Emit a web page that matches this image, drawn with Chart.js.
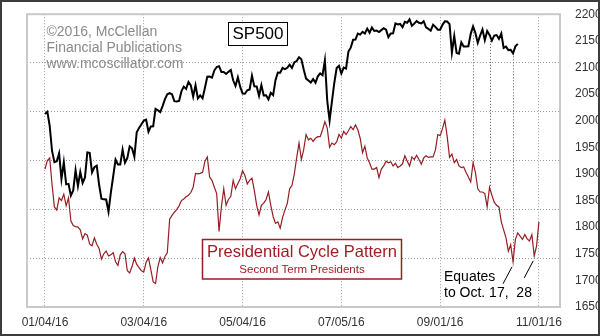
<!DOCTYPE html>
<html>
<head>
<meta charset="utf-8">
<script src="https://cdn.jsdelivr.net/npm/chart.js@4.4.1/dist/chart.umd.min.js"></script>
<style>
  html, body { margin: 0; padding: 0; background: #fff; }
  canvas { display: block; }
</style>
</head>
<body>
<canvas id="c" width="600" height="336"></canvas>
<script>
// S&P 500 daily closes, one per trading day from 01/04/16 through 10/19/16
const sp500 = [
  // Jan
  2012.66, 2016.71, 1990.26, 1943.09, 1922.03, 1923.67, 1938.68, 1890.28, 1921.84, 1880.33,
  1881.33, 1859.33, 1868.99, 1906.90, 1877.08, 1903.63, 1882.95, 1893.36, 1940.24,
  // Feb
  1939.38, 1903.03, 1912.53, 1915.45, 1880.05, 1853.44, 1852.21, 1851.86, 1829.08, 1864.78,
  1895.58, 1926.82, 1917.83, 1917.78, 1945.50, 1921.27, 1929.80, 1951.70, 1948.05, 1932.23,
  // Mar
  1978.35, 1986.45, 1993.40, 1999.99, 2001.76, 1979.26, 1989.26, 1989.57, 2022.19, 2019.64,
  2015.93, 2027.22, 2040.59, 2049.58, 2051.60, 2049.80, 2036.71, 2035.94, 2037.05, 2055.01,
  2063.95, 2059.74,
  // Apr
  2072.78, 2066.13, 2045.17, 2066.66, 2041.91, 2047.60, 2041.99, 2061.72, 2082.42, 2082.78,
  2080.73, 2094.34, 2100.80, 2102.40, 2091.48, 2091.58, 2087.79, 2091.70, 2095.15, 2075.81,
  2065.30,
  // May
  2081.43, 2063.37, 2051.12, 2050.63, 2057.14, 2058.69, 2084.39, 2064.46, 2064.11, 2046.61,
  2066.66, 2047.21, 2047.63, 2040.04, 2052.32, 2048.04, 2076.06, 2090.54, 2090.10, 2099.06,
  2096.95,
  // Jun
  2099.33, 2105.26, 2099.13, 2109.41, 2112.13, 2119.12, 2115.48, 2096.07, 2079.06, 2075.32,
  2071.50, 2077.99, 2071.22, 2083.25, 2088.90, 2085.45, 2113.32, 2037.41, 2000.54, 2036.09,
  2070.77, 2098.86,
  // Jul
  2102.95, 2088.55, 2099.73, 2097.90, 2129.90, 2137.16, 2152.14, 2152.43, 2163.75, 2161.74,
  2166.89, 2163.78, 2173.02, 2165.17, 2175.03, 2168.48, 2169.18, 2166.58, 2170.06, 2173.60,
  // Aug
  2170.84, 2157.03, 2163.79, 2164.25, 2182.87, 2180.89, 2181.74, 2175.49, 2185.79, 2184.05,
  2190.15, 2178.15, 2182.22, 2187.02, 2183.87, 2182.64, 2186.90, 2175.44, 2172.47, 2169.04,
  2180.38, 2176.12, 2170.95,
  // Sep
  2170.86, 2179.98, 2186.48, 2186.16, 2181.30, 2127.81, 2159.04, 2127.02, 2125.77, 2147.26,
  2139.16, 2139.12, 2139.76, 2163.12, 2177.18, 2164.69, 2146.10, 2159.93, 2171.37, 2151.13,
  2168.27,
  // Oct
  2161.20, 2150.49, 2159.73, 2160.77, 2153.74, 2163.66, 2136.73, 2139.18, 2132.55, 2132.98,
  2126.50, 2139.60, 2144.29
];

// Presidential cycle pattern (second-term presidents), one value per trading day to 11/01/16
const pattern = [
  1909, 1925, 1930, 1880, 1838, 1832, 1855, 1850, 1862, 1840,
  1855, 1812, 1803, 1801, 1800, 1795, 1778, 1788, 1785, 1768,
  1765, 1780, 1768, 1760, 1740, 1750, 1755, 1746, 1748, 1752,
  1735, 1728, 1748, 1754, 1750, 1718, 1714, 1726, 1742, 1730,
  1724, 1718, 1716, 1734, 1742, 1720, 1697, 1694, 1726, 1743,
  1733, 1745, 1752, 1815, 1822, 1828, 1833, 1840, 1850, 1853,
  1857, 1860, 1865, 1875, 1901, 1900, 1901, 1903, 1924, 1932,
  1894, 1888, 1875, 1863, 1792, 1838, 1872, 1841, 1852, 1858,
  1888, 1872, 1882, 1891, 1906, 1897, 1881, 1888, 1892, 1869,
  1841, 1823, 1841, 1845, 1852, 1866, 1841, 1820, 1807, 1810,
  1798, 1818, 1832, 1844, 1872, 1878, 1900, 1930, 1958, 1927,
  1946, 1974, 1964, 1967, 1961, 1967, 1970, 1970, 1983, 1998,
  1986, 1950, 1958, 1955, 1960, 1974, 1967, 1980, 1974, 1981,
  1989, 1983, 1992, 1983, 1967, 1940, 1952, 1930, 1921, 1909,
  1909, 1912, 1893, 1909, 1915, 1924, 1921, 1923, 1915, 1920,
  1912, 1915, 1919, 1934, 1924, 1915, 1932, 1927, 1935, 1927,
  1918, 1930, 1934, 1931, 1932, 1932, 1945, 1974, 1972, 1985,
  2001, 1970, 1931, 1937, 1921, 1927, 1915, 1912, 1913, 1903,
  1894, 1885, 1921, 1903, 1872, 1866, 1866, 1863, 1838, 1875,
  1860, 1847, 1841, 1838, 1810, 1795, 1780, 1755, 1767, 1735,
  1777, 1789, 1783, 1777, 1786, 1778, 1774, 1786, 1746, 1765,
  1810
];

// Date axis: trading-day index of each labelled date
const tickDays   = [0, 42, 84, 126, 168, 210];
const tickLabels = ['01/04/16', '03/04/16', '05/04/16', '07/05/16', '09/01/16', '11/01/16'];

// Trading days joined by dotted guides (S&P 500 turn -> pattern turn)
const guideDays = [182, 189, 199];
// Pattern lows pointed out by the note
const equateDays = [199, 208];
const equateNote = ['Equates', 'to Oct. 17,  28'];

const FONT = "'Liberation Sans', Arial, Helvetica, sans-serif";
const RED = '#961e24';
Chart.defaults.font.family = FONT;

const decorations = {
  id: 'decorations',
  beforeDatasetsDraw(chart) {
    const { ctx, scales: { x, y } } = chart;
    ctx.save();
    ctx.strokeStyle = '#555';
    ctx.lineWidth = 1;
    ctx.setLineDash([1, 2]);
    guideDays.forEach(d => {
      const px = Math.round(x.getPixelForValue(d)) + 0.5;
      ctx.beginPath();
      ctx.moveTo(px, y.getPixelForValue(sp500[d]));
      ctx.lineTo(px, y.getPixelForValue(pattern[d]));
      ctx.stroke();
    });
    ctx.restore();
  },
  afterDraw(chart) {
    const { ctx, chartArea: a, scales: { x, y } } = chart;
    ctx.save();

    // plot frame
    ctx.strokeStyle = '#c9c9c9';
    ctx.lineWidth = 2;
    ctx.strokeRect(a.left, a.top, a.right - a.left, a.bottom - a.top);

    // copyright block
    ctx.fillStyle = '#8a8a8a';
    ctx.font = '14px ' + FONT;
    ctx.textAlign = 'left';
    ctx.textBaseline = 'middle';
    ['\u00A92016, McClellan', 'Financial Publications', 'www.mcoscillator.com']
      .forEach((t, i) => ctx.fillText(t, 46.5, 32 + i * 16));

    // SP500 tag
    ctx.fillStyle = '#fff';
    ctx.fillRect(228.5, 22.5, 59, 23);
    ctx.strokeStyle = '#000';
    ctx.lineWidth = 1;
    ctx.strokeRect(228.5, 22.5, 59, 23);
    ctx.fillStyle = '#000';
    ctx.font = '17px ' + FONT;
    ctx.textAlign = 'center';
    ctx.fillText('SP500', 258, 34.5);

    // pattern legend box
    ctx.fillStyle = '#fff';
    ctx.fillRect(202.5, 239.5, 199, 39.5);
    ctx.strokeStyle = RED;
    ctx.lineWidth = 1.5;
    ctx.strokeRect(202.5, 239.5, 199, 39.5);
    ctx.fillStyle = '#a01c22';
    ctx.font = '16.5px ' + FONT;
    ctx.fillText('Presidential Cycle Pattern', 302, 252);
    ctx.font = '11.5px ' + FONT;
    ctx.fillText('Second Term Presidents', 302, 270);

    // note with pointers to the pattern lows
    ctx.fillStyle = '#000';
    ctx.font = '14px ' + FONT;
    ctx.textAlign = 'left';
    ctx.fillText(equateNote[0], 444, 277.5);
    ctx.fillText(equateNote[1], 444, 293.5);
    ctx.strokeStyle = '#000';
    ctx.lineWidth = 1;
    equateDays.forEach(d => {
      const px = x.getPixelForValue(d);
      const py = y.getPixelForValue(pattern[d]);
      ctx.beginPath();
      ctx.moveTo(px - 10, py + 22);
      ctx.lineTo(px - 1, py + 5);
      ctx.stroke();
    });

    // outer frame
    ctx.strokeStyle = '#3c3c3c';
    ctx.lineWidth = 2;
    ctx.strokeRect(1, 1, 598, 334);
    ctx.restore();
  }
};

new Chart(document.getElementById('c'), {
  type: 'line',
  data: {
    datasets: [
      {
        label: 'SP500',
        data: sp500.map((v, i) => ({ x: i, y: v })),
        borderColor: '#000',
        borderWidth: 2,
        pointRadius: 0,
        tension: 0,
        yAxisID: 'y'
      },
      {
        label: 'Presidential Cycle Pattern',
        data: pattern.map((v, i) => ({ x: i, y: v })),
        borderColor: RED,
        borderWidth: 1.2,
        pointRadius: 0,
        tension: 0,
        yAxisID: 'y'
      }
    ]
  },
  options: {
    responsive: false,
    animation: false,
    devicePixelRatio: 1,
    layout: { padding: { left: 27, top: 9, right: 0, bottom: 0 } },
    plugins: { legend: { display: false }, tooltip: { enabled: false } },
    scales: {
      x: {
        type: 'linear',
        min: -7.65,
        max: 218.96,
        afterBuildTicks: s => { s.ticks = tickDays.map(v => ({ value: v })); },
        afterFit: s => { s.height = 29; },
        ticks: {
          autoSkip: false,
          maxRotation: 0,
          padding: 8,
          color: '#333',
          font: { size: 12 },
          callback: v => tickLabels[tickDays.indexOf(v)]
        },
        grid: { color: '#9a9a9a', lineWidth: 1, drawTicks: false },
        border: { display: false, dash: [1, 2] }
      },
      y: {
        position: 'right',
        min: 1650,
        max: 2200,
        afterFit: s => { s.width = 40; },
        ticks: {
          stepSize: 50,
          padding: 7,
          color: '#333',
          font: { size: 12 },
          callback: v => String(v)
        },
        grid: { display: false },
        border: { display: false }
      },
      grid6: {
        position: 'left',
        min: 1650,
        max: 2200,
        afterBuildTicks: s => {
          s.ticks = [1, 2, 3, 4, 5].map(k => ({ value: 1650 + k * 550 / 6 }));
        },
        afterFit: s => { s.width = 0; },
        ticks: { display: false },
        grid: { color: '#9a9a9a', lineWidth: 1, drawTicks: false },
        border: { display: false, dash: [1, 2] }
      }
    }
  },
  plugins: [decorations]
});
</script>
</body>
</html>
